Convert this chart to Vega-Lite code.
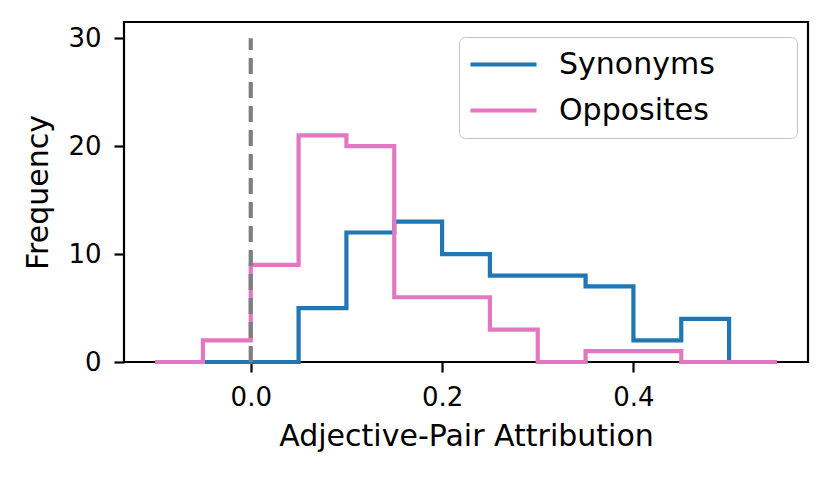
{
  "$schema": "https://vega.github.io/schema/vega-lite/v6.json",
  "width": 684,
  "height": 340,
  "autosize": {"type": "none"},
  "padding": {"left": 124, "top": 22, "right": 22, "bottom": 116},
  "background": "white",
  "datasets": {
    "hist": [
      {"series": "Synonyms", "bin_start": -0.1, "count": 0},
      {"series": "Synonyms", "bin_start": -0.05, "count": 0},
      {"series": "Synonyms", "bin_start": 0.0, "count": 0},
      {"series": "Synonyms", "bin_start": 0.05, "count": 5},
      {"series": "Synonyms", "bin_start": 0.1, "count": 12},
      {"series": "Synonyms", "bin_start": 0.15, "count": 13},
      {"series": "Synonyms", "bin_start": 0.2, "count": 10},
      {"series": "Synonyms", "bin_start": 0.25, "count": 8},
      {"series": "Synonyms", "bin_start": 0.3, "count": 8},
      {"series": "Synonyms", "bin_start": 0.35, "count": 7},
      {"series": "Synonyms", "bin_start": 0.4, "count": 2},
      {"series": "Synonyms", "bin_start": 0.45, "count": 4},
      {"series": "Synonyms", "bin_start": 0.5, "count": 0},
      {"series": "Synonyms", "bin_start": 0.55, "count": 0},
      {"series": "Opposites", "bin_start": -0.1, "count": 0},
      {"series": "Opposites", "bin_start": -0.05, "count": 2},
      {"series": "Opposites", "bin_start": 0.0, "count": 9},
      {"series": "Opposites", "bin_start": 0.05, "count": 21},
      {"series": "Opposites", "bin_start": 0.1, "count": 20},
      {"series": "Opposites", "bin_start": 0.15, "count": 6},
      {"series": "Opposites", "bin_start": 0.2, "count": 6},
      {"series": "Opposites", "bin_start": 0.25, "count": 3},
      {"series": "Opposites", "bin_start": 0.3, "count": 0},
      {"series": "Opposites", "bin_start": 0.35, "count": 1},
      {"series": "Opposites", "bin_start": 0.4, "count": 1},
      {"series": "Opposites", "bin_start": 0.45, "count": 0},
      {"series": "Opposites", "bin_start": 0.5, "count": 0},
      {"series": "Opposites", "bin_start": 0.55, "count": 0}
    ],
    "zeroline": [
      {"x": 0, "y_low": 0, "y_high": 30}
    ]
  },
  "encoding": {
    "x": {
      "field": "bin_start",
      "type": "quantitative",
      "title": "Adjective-Pair Attribution",
      "scale": {"domain": [-0.1325, 0.5825], "nice": false, "zero": false},
      "axis": {"values": [0, 0.2, 0.4], "format": ".1f", "labelPadding": 12, "titlePadding": 11}
    },
    "y": {
      "field": "count",
      "type": "quantitative",
      "title": "Frequency",
      "scale": {"domain": [0, 31.5], "nice": false},
      "axis": {"values": [0, 10, 20, 30], "labelPadding": 13, "titlePadding": 14}
    }
  },
  "layer": [
    {
      "data": {"name": "hist"},
      "transform": [{"filter": "datum.series === 'Synonyms'"}],
      "mark": {"type": "line", "interpolate": "step-after", "strokeWidth": 4.2, "strokeJoin": "miter"},
      "encoding": {
        "color": {
          "field": "series",
          "type": "nominal",
          "scale": {"domain": ["Synonyms", "Opposites"], "range": ["#1f77b4", "#e377c2"]},
          "legend": {
            "title": null,
            "orient": "none",
            "legendX": 335,
            "legendY": 15,
            "padding": 12,
            "strokeColor": "#c4c4c4",
            "cornerRadius": 6,
            "fillColor": "rgba(255,255,255,0.8)",
            "symbolType": "M-2.54,0H2.54",
            "symbolSize": 676,
            "symbolStrokeWidth": 4.2,
            "symbolFillColor": "transparent",
            "symbolOffset": 17,
            "labelOffset": 40,
            "labelFontSize": 30,
            "labelColor": "black",
            "labelLimit": 400,
            "rowPadding": 15,
            "labelExpr": "datum.label + '\u00a0\u00a0\u00a0\u00a0\u00a0\u2800'"
          }
        }
      }
    },
    {
      "data": {"name": "hist"},
      "transform": [{"filter": "datum.series === 'Opposites'"}],
      "mark": {"type": "line", "interpolate": "step-after", "strokeWidth": 4.2, "strokeJoin": "miter"},
      "encoding": {
        "color": {"field": "series", "type": "nominal"}
      }
    },
    {
      "data": {"name": "zeroline"},
      "mark": {"type": "rule", "color": "#7f7f7f", "strokeWidth": 4.2, "strokeDash": [16, 8]},
      "encoding": {
        "x": {"field": "x", "type": "quantitative"},
        "y": {"field": "y_low", "type": "quantitative"},
        "y2": {"field": "y_high"}
      }
    }
  ],
  "config": {
    "font": "DejaVu Sans",
    "view": {"stroke": "black", "strokeWidth": 2.2},
    "axis": {
      "domain": false,
      "grid": false,
      "tickColor": "black",
      "tickSize": 10,
      "tickWidth": 2.2,
      "labelFontSize": 26,
      "labelColor": "black",
      "titleFontSize": 30,
      "titleFontWeight": "normal",
      "titleColor": "black"
    }
  }
}
